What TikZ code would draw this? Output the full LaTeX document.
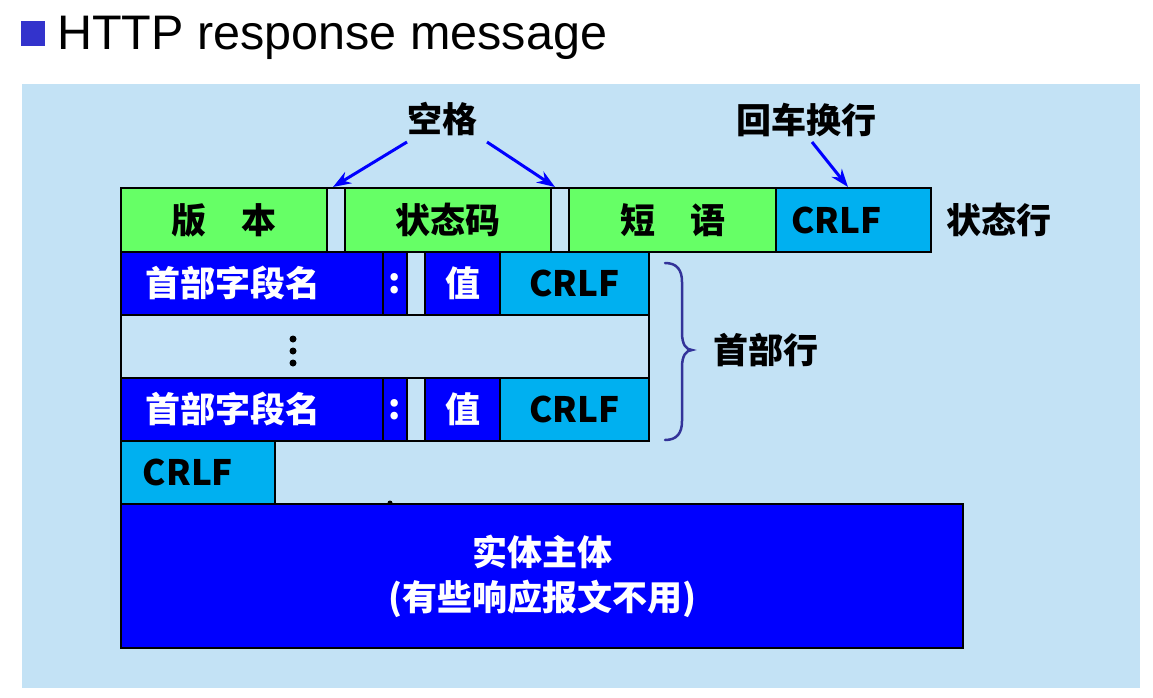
\documentclass[tikz,border=0pt]{standalone}
\usepackage{fontspec}
\usetikzlibrary{arrows.meta,calc}
\newfontfamily\cjk{Noto Sans CJK SC}
\newfontfamily\titlefont{Liberation Sans}
\definecolor{panelblue}{HTML}{C3E2F5}
\definecolor{gapblue}{HTML}{C5E3F6}
\definecolor{fieldgreen}{HTML}{66FF66}
\definecolor{crlfcyan}{HTML}{00B0F0}
\definecolor{hdrblue}{HTML}{0000FF}
\definecolor{bulletblue}{HTML}{3333CC}
\definecolor{bracepurple}{HTML}{333399}
\tikzset{
  cell/.style={draw=black, line width=2pt, inner sep=0pt, outer sep=0pt,
    anchor=north west, font=\cjk\bfseries\fontsize{35}{40}\selectfont},
  greencell/.style={cell, fill=fieldgreen, text=black},
  cyancell/.style={cell, fill=crlfcyan, text=black},
  bluecell/.style={cell, fill=hdrblue, text=white},
  gapcell/.style={cell, fill=gapblue},
  label/.style={inner sep=0pt, font=\cjk\bfseries\fontsize{35}{40}\selectfont, text=black},
  pointer/.style={draw=hdrblue, line width=3pt, -{Stealth[length=18pt,width=13pt]}},
  bracepen/.style={draw=bracepurple, line width=2.5pt, line cap=round}
}
\begin{document}
\begin{tikzpicture}[x=1pt,y=-1pt]
\useasboundingbox (0,0) rectangle (1153,698);
\fill[white] (0,0) rectangle (1153,698);
% heading
\node[fill=bulletblue, inner sep=0pt, minimum width=24pt, minimum height=25pt, anchor=north west] (bullet) at (21,21) {};
\node[anchor=base west, inner sep=0pt, font=\titlefont\fontsize{48.5}{58}\selectfont] (title) at (57,50) {HTTP response message};
% panel
\fill[panelblue] (22,84) rectangle (1140,688);
% status line
\node[greencell, minimum width=206pt, minimum height=64pt] (ver) at (121,188) {版\quad 本};
\node[gapcell, minimum width=18pt, minimum height=64pt] (sp1) at (327,188) {};
\node[greencell, minimum width=206pt, minimum height=64pt] (code) at (345,188) {状态码};
\node[gapcell, minimum width=18pt, minimum height=64pt] (sp2) at (551,188) {};
\node[greencell, minimum width=207pt, minimum height=64pt] (phrase) at (569,188) {短\quad 语};
\node[cyancell, minimum width=155pt, minimum height=64pt] (crlf0) at (776,188) {CRLF\hspace*{34pt}};
% header lines
\node[bluecell, minimum width=262pt, minimum height=63pt] (hname1) at (121,252) {首部字段名\hspace*{38pt}};
\node[bluecell, minimum width=24pt, minimum height=63pt] (hcolon1) at (383,252) {:};
\node[gapcell, minimum width=18pt, minimum height=63pt] (hgap1) at (407,252) {};
\node[bluecell, minimum width=75pt, minimum height=63pt] (hval1) at (425,252) {值};
\node[cyancell, minimum width=149pt, minimum height=63pt] (hcrlf1) at (500,252) {CRLF};
\node[gapcell, minimum width=528pt, minimum height=63pt] (hdots) at (121,315) {};
\foreach \dy in {-12,0,12} \fill (293,351+\dy) circle (3.5pt);
\node[bluecell, minimum width=262pt, minimum height=63pt] (hname2) at (121,378) {首部字段名\hspace*{38pt}};
\node[bluecell, minimum width=24pt, minimum height=63pt] (hcolon2) at (383,378) {:};
\node[gapcell, minimum width=18pt, minimum height=63pt] (hgap2) at (407,378) {};
\node[bluecell, minimum width=75pt, minimum height=63pt] (hval2) at (425,378) {值};
\node[cyancell, minimum width=149pt, minimum height=63pt] (hcrlf2) at (500,378) {CRLF};
% blank line and body
\node[cyancell, minimum width=154pt, minimum height=63pt] (crlf3) at (121,441) {CRLF\hspace*{20pt}};
\fill (390,503) circle (2.5pt);
\node[bluecell, minimum width=842pt, minimum height=144pt, align=center,
  font=\cjk\bfseries\fontsize{35}{45}\selectfont] (body) at (121,504) {实体主体\\(有些响应报文不用)};
% side labels
\node[label] (statusline) at (999,220) {状态行};
\node[label] (hdrlines) at (766,350) {首部行};
% callouts
\node[label] (space) at (442,119) {空格};
\node[label] (crlftext) at (806,120) {回车换行};
\coordinate (s1) at (407,142);
\coordinate (s2) at (487,142);
\coordinate (s3) at (812,142);
\draw[pointer] (s1) -- ($(sp1.north west)+(6,-1)$);
\draw[pointer] (s2) -- ($(sp2.north west)+(4,-1)$);
\draw[pointer] (s3) -- ($(crlf0.north west)+(72,-1)$);
% brace grouping the header lines
\draw[bracepen] (665,263) .. controls (677,263) and (682,270) .. (682,282) -- (682,333)
  .. controls (682,344) and (686,350) .. (692,350)
  .. controls (686,350) and (682,356) .. (682,367) -- (682,421)
  .. controls (682,433) and (677,440) .. (665,440);
\end{tikzpicture}
\end{document}
